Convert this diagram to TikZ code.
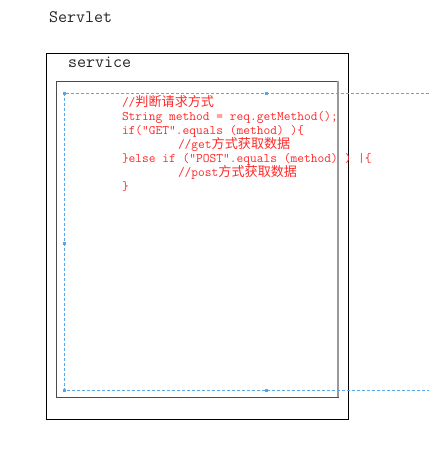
\documentclass[tikz,border=0pt]{standalone}
\usepackage{fontspec}
\setmainfont{Liberation Serif}
\newfontfamily\cjk{Noto Sans CJK SC}
\usetikzlibrary{positioning}
\definecolor{codered}{RGB}{255,40,40}
\definecolor{selblue}{RGB}{90,165,230}
\begin{document}
\begin{tikzpicture}[x=1pt,y=-1pt,inner sep=0pt,outer sep=0pt,
box/.style={draw,rectangle,line width=1pt},
label/.style={anchor=base west,font=\ttfamily\fontsize{17.5}{18}\selectfont,text=black!85},
codeline/.style={anchor=base west,text=codered,font=\ttfamily\fontsize{13.1}{14}\selectfont},
handle/.style={fill=selblue,minimum size=3pt,inner sep=0pt}]
\useasboundingbox (0,0) rectangle (429,464);
% frames
\draw (46.5,53) node[box,anchor=north west,minimum width=301.5pt,minimum height=366pt,draw=black] (servlet) {};
\draw (56.5,81) node[box,anchor=north west,minimum width=281.5pt,minimum height=316pt,draw=black!70] (method) {};
\draw[gray!80,line width=1.3pt] (method.north east) -- (method.south east);
\draw (49,22) node[label] (title) {Servlet};
\draw (68,67) node[label] (svc) {service};
% selection
\coordinate (selnw) at (64,93);
\coordinate (selsw) at (64,390);
\coordinate (selne) at (429,93);
\coordinate (selse) at (429,390);
\draw[selblue,line width=0.8pt,dash pattern=on 3pt off 2pt] (selne) -- (selnw) -- (selsw) -- (selse);
\node[handle] (h1) at (selnw) {};
\node[handle] (h2) at (266,93) {};
\node[handle] (h3) at (64,243) {};
\node[handle] (h4) at (selsw) {};
\node[handle] (h5) at (266,390) {};
% code
\draw (122,106) node[codeline] (l1) {//{\cjk 判断请求方式}};
\draw (122,120) node[codeline] (l2) {String method = req.getMethod();};
\draw (122,134) node[codeline] (l3) {if(”GET”.equals (method) )\{};
\draw (178,148) node[codeline] (l4) {//get{\cjk 方式获取数据}};
\draw (122,162) node[codeline] (l5) {\}else if (”POST”.equals (method) ) |\{};
\draw (178,176) node[codeline] (l6) {//post{\cjk 方式获取数据}};
\draw (122,190) node[codeline] (l7) {\}};
\end{tikzpicture}
\end{document}
